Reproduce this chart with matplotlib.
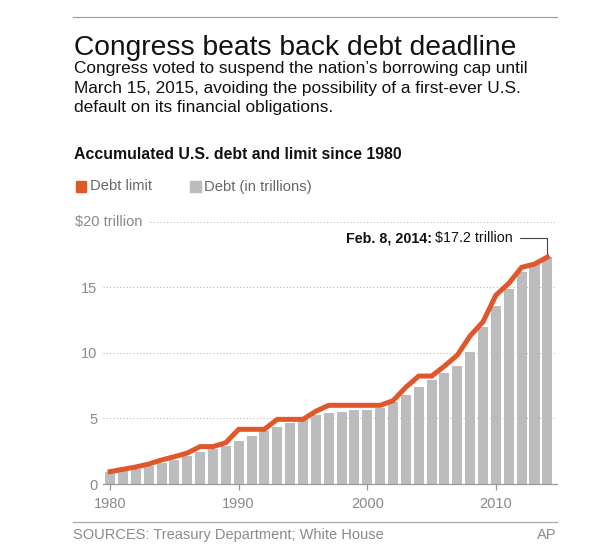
import matplotlib
matplotlib.use('Agg')
import matplotlib.pyplot as plt
from matplotlib.patches import Rectangle

plt.rcParams['font.family'] = ['Liberation Sans', 'DejaVu Sans']

# data (trillions of dollars)
years = list(range(1980, 2015))
debt = [0.91, 1.01, 1.17, 1.40, 1.63, 1.83, 2.11, 2.41, 2.64, 2.92, 3.25, 3.66,
        4.06, 4.37, 4.67, 4.88, 5.23, 5.41, 5.51, 5.66, 5.66, 5.82, 6.23, 6.78,
        7.39, 7.93, 8.48, 8.99, 10.04, 11.94, 13.59, 14.84, 16.13, 16.77, 17.3]
limit = [0.94, 1.12, 1.30, 1.52, 1.83, 2.08, 2.36, 2.85, 2.85, 3.15, 4.17, 4.17,
         4.17, 4.93, 4.93, 4.93, 5.55, 6.0, 6.0, 6.0, 6.0, 6.0, 6.35, 7.38,
         8.23, 8.23, 8.99, 9.83, 11.3, 12.37, 14.4, 15.3, 16.52, 16.77, 17.3]
x_ticks = [1980, 1990, 2000, 2010]
y_ticks = [0, 5, 10, 15]
y_tick_labels = ['0', '5', '10', '15']

W, H = 605, 559
ORANGE = '#e0572b'
BAR = '#bcbcbf'
GRAY_TXT = '#8a8a8a'

fig = plt.figure(figsize=(W / 100, H / 100), dpi=100)


def fx(px):
    return px / W


def fy(py):
    return 1 - py / H


# header text
fig.add_artist(plt.Line2D([fx(73), fx(557)], [fy(17), fy(17)], color='#999999', lw=0.8))
fig.text(fx(74), fy(55), 'Congress beats back debt deadline', fontsize=20.3,
         color='#111111', va='baseline')
sub = ['Congress voted to suspend the nation\u2019s borrowing cap until',
       'March 15, 2015, avoiding the possibility of a first-ever U.S.',
       'default on its financial obligations.']
for i, line in enumerate(sub):
    fig.text(fx(74), fy(73 + i * 19.5), line, fontsize=12.4, color='#111111', va='baseline')

fig.text(fx(74), fy(159.5), 'Accumulated U.S. debt and limit since 1980', fontsize=11.4,
         fontweight='bold', color='#111111', va='baseline')

# legend
fig.add_artist(Rectangle((fx(76), fy(192)), fx(10), 11 / H, color=ORANGE, transform=fig.transFigure))
fig.text(fx(90), fy(190.5), 'Debt limit', fontsize=10.6, color='#666666', va='baseline')
fig.add_artist(Rectangle((fx(190), fy(192)), fx(11), 11 / H, color=BAR, transform=fig.transFigure))
fig.text(fx(204), fy(190.5), 'Debt (in trillions)', fontsize=10.6, color='#666666', va='baseline')

# chart area
ax = fig.add_axes([fx(103), fy(484), fx(557) - fx(103), (484 - 221.7) / H])
ax.set_xlim(1979.45, 2014.75)
ax.set_ylim(0, 20)

for v in [5, 10, 15]:
    ax.axhline(v, color='#bbbbbb', lw=0.8, ls=(0, (1, 2)), zorder=0)
ax.axhline(20, xmin=(150 - 103) / 454, color='#bbbbbb', lw=0.8, ls=(0, (1, 2)), zorder=0)

ax.bar(years, debt, width=0.78, color=BAR, zorder=2)
ax.plot(years, limit, color=ORANGE, lw=3.6, solid_joinstyle='miter', zorder=3)

for s in ['top', 'right', 'left']:
    ax.spines[s].set_visible(False)
ax.spines['bottom'].set_color('#999999')
ax.spines['bottom'].set_linewidth(0.9)

ax.set_xticks(x_ticks)
ax.set_xticklabels([str(t) for t in x_ticks])
ax.set_yticks(y_ticks)
ax.set_yticklabels(y_tick_labels)
ax.tick_params(axis='x', direction='out', length=4, width=0.9, color='#999999',
               labelsize=10.5, labelcolor=GRAY_TXT, pad=5)
ax.tick_params(axis='y', length=0, labelsize=10.5, labelcolor=GRAY_TXT, pad=4)
ax.text(-0.062, 20, '$20 trillion', transform=ax.get_yaxis_transform(), fontsize=10.5,
        color=GRAY_TXT, va='center', ha='left')

# annotation for the latest point
ax.annotate('', xy=(2014, 17.3), xytext=(2011.62, 18.75),
            arrowprops=dict(arrowstyle='-', color='#444444', lw=0.8,
                            connectionstyle='angle,angleA=0,angleB=90,rad=0'))
val_txt = ax.text(2011.31, 18.75, '$17.2 trillion', fontsize=10.3, color='#111111',
                  ha='right', va='center')
fig.canvas.draw()
bb = val_txt.get_window_extent()
left_x = ax.transData.inverted().transform((bb.x0 - 3, bb.y0))[0]
ax.text(left_x, 18.75, 'Feb. 8, 2014:', fontsize=10.3, fontweight='bold', color='#111111',
        ha='right', va='center')

# footer
fig.add_artist(plt.Line2D([fx(73), fx(557)], [fy(521.5), fy(521.5)], color='#aaaaaa', lw=0.9))
fig.text(fx(73), fy(535), 'SOURCES: Treasury Department; White House', fontsize=10.5,
         color=GRAY_TXT, va='center')
fig.text(fx(556), fy(535), 'AP', fontsize=10.5, color=GRAY_TXT, va='center', ha='right')

fig.savefig('out.png', dpi=100)
